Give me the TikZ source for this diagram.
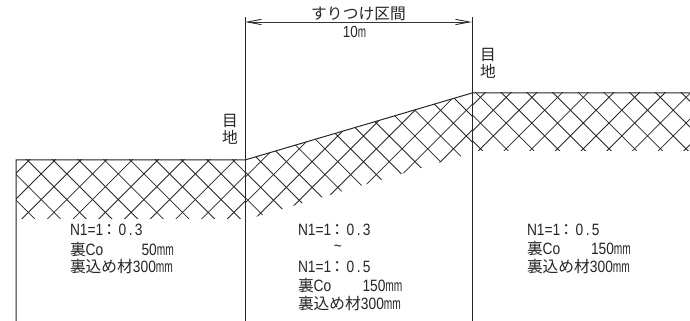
\documentclass[tikz,border=0pt]{standalone}
\usepackage{fontspec}
\usetikzlibrary{arrows.meta}
\newfontfamily\jpf{Noto Sans CJK JP}
\newfontfamily\latf{Liberation Sans}[FakeStretch=0.84]
\newfontfamily\narf{Liberation Sans}[FakeStretch=0.62]
\newcommand{\cj}[1]{{\jpf\fontsize{11.8pt}{12pt}\selectfont #1}}
\newcommand{\la}[1]{{\latf\fontsize{12.3pt}{12pt}\selectfont #1}}
\newcommand{\mmu}{{\narf\fontsize{12.3pt}{12pt}\selectfont mm}}
\newcommand{\ratio}[1]{\la{0}\hspace{1.8pt}\la{.}\hspace{1.8pt}\la{#1}}
\tikzset{
  outline/.style={line width=0.75pt,draw=black!85},
  hatchline/.style={line width=0.6pt,draw=black!85},
  dimline/.style={line width=0.7pt,draw=black!80,{Straight Barb[length=10.5pt,width=4pt]}-{Straight Barb[length=10.5pt,width=4pt]}},
  txt/.style={inner sep=0pt,outer sep=0pt,anchor=west,text=black!85},
  jtxt/.style={inner sep=0pt,outer sep=0pt,text=black!85}
}
\newcommand{\hatchset}[6]{% xmin xmax ymin ymax  sum0  diff0
  \pgfmathsetmacro{\ha}{#5}\pgfmathsetmacro{\hb}{#6}
  \foreach \k in {-30,...,30}{
    \pgfmathsetmacro{\sm}{\ha+25.7*\k}
    \pgfmathsetmacro{\df}{\hb+25.7*\k}
    \draw[hatchline] ({\sm-#3},#3) -- ({\sm-#4},#4);
    \draw[hatchline] ({\df+#3},#3) -- ({\df+#4},#4);
  }
}
\begin{document}
\begin{tikzpicture}[x=0.75pt,y=-0.75pt]
\useasboundingbox (0,0) rectangle (690,321);
% named points
\coordinate (lb) at (16,321);
\coordinate (lt) at (16,160);
\coordinate (mt) at (245,160);
\coordinate (mb) at (245,321);
\coordinate (mtop) at (245,17);
\coordinate (rt) at (472,93);
\coordinate (rb) at (472,321);
\coordinate (rtop) at (472,17);
\coordinate (re) at (690,93);
\coordinate (dl) at (245,22);
\coordinate (dr) at (472,22);
% hatching
\begin{scope}
\clip (16,160) rectangle (245,218);
\hatchset{16}{245}{150}{230}{189.3}{-132.7}
\end{scope}
\begin{scope}
\clip (245,160) -- (472,93) -- (472,153) -- (245,220) -- cycle;
\hatchset{245}{472}{80}{240}{422.4}{99}
\end{scope}
\begin{scope}
\clip (472,93) rectangle (690,151);
\hatchset{472}{690}{80}{160}{629.2}{408.8}
\end{scope}
% outlines
\draw[outline] (lb) -- (lt) -- (mt) -- (rt) -- (re);
\draw[outline] (mtop) -- (mb);
\draw[outline] (rtop) -- (rb);
\draw[dimline] (dl) -- (dr);
% labels
\node[jtxt] (title) at (358.5,14) {{\jpf\fontsize{11.8pt}{12pt}\selectfont すりつけ区間}};
\node[jtxt] (span) at (354.5,32) {{\latf\fontsize{12pt}{12pt}\selectfont 10}{\narf\fontsize{12pt}{12pt}\selectfont m}};
\node[jtxt] (jl1) at (230,121) {\cj{目}};
\node[jtxt] (jl2) at (230,137) {\cj{地}};
\node[jtxt] (jr1) at (488,55) {\cj{目}};
\node[jtxt] (jr2) at (488,71) {\cj{地}};
% left text
\node[txt] (a1) at (70,230) {\la{N1=1}};
\node[jtxt] (a1b) at (109.3,230) {\cj{：}};
\node[txt] (a1c) at (118.7,230) {\ratio{3}};
\node[txt] (a2) at (70,250) {\cj{裏}\la{Co}};
\node[txt] (a3) at (141.5,250) {\la{50}\mmu};
\node[txt] (a4) at (70,267) {\cj{裏込め材}\la{300}\mmu};
% middle text
\node[txt] (b1) at (298,230) {\la{N1=1}};
\node[jtxt] (b1b) at (337.3,230) {\cj{：}};
\node[txt] (b1c) at (346.7,230) {\ratio{3}};
\node[jtxt] (b2) at (338,248) {\la{\textasciitilde}};
\node[txt] (b3) at (298,267) {\la{N1=1}};
\node[jtxt] (b3b) at (337.3,267) {\cj{：}};
\node[txt] (b3c) at (346.7,267) {\ratio{5}};
\node[txt] (b4) at (298,286) {\cj{裏}\la{Co}};
\node[txt] (b5) at (362.5,286) {\la{150}\mmu};
\node[txt] (b6) at (298,304) {\cj{裏込め材}\la{300}\mmu};
% right text
\node[txt] (c1) at (527,230) {\la{N1=1}};
\node[jtxt] (c1b) at (566.3,230) {\cj{：}};
\node[txt] (c1c) at (575.7,230) {\ratio{5}};
\node[txt] (c2) at (527,249) {\cj{裏}\la{Co}};
\node[txt] (c3) at (591,249) {\la{150}\mmu};
\node[txt] (c4) at (527,267) {\cj{裏込め材}\la{300}\mmu};
\end{tikzpicture}
\end{document}
